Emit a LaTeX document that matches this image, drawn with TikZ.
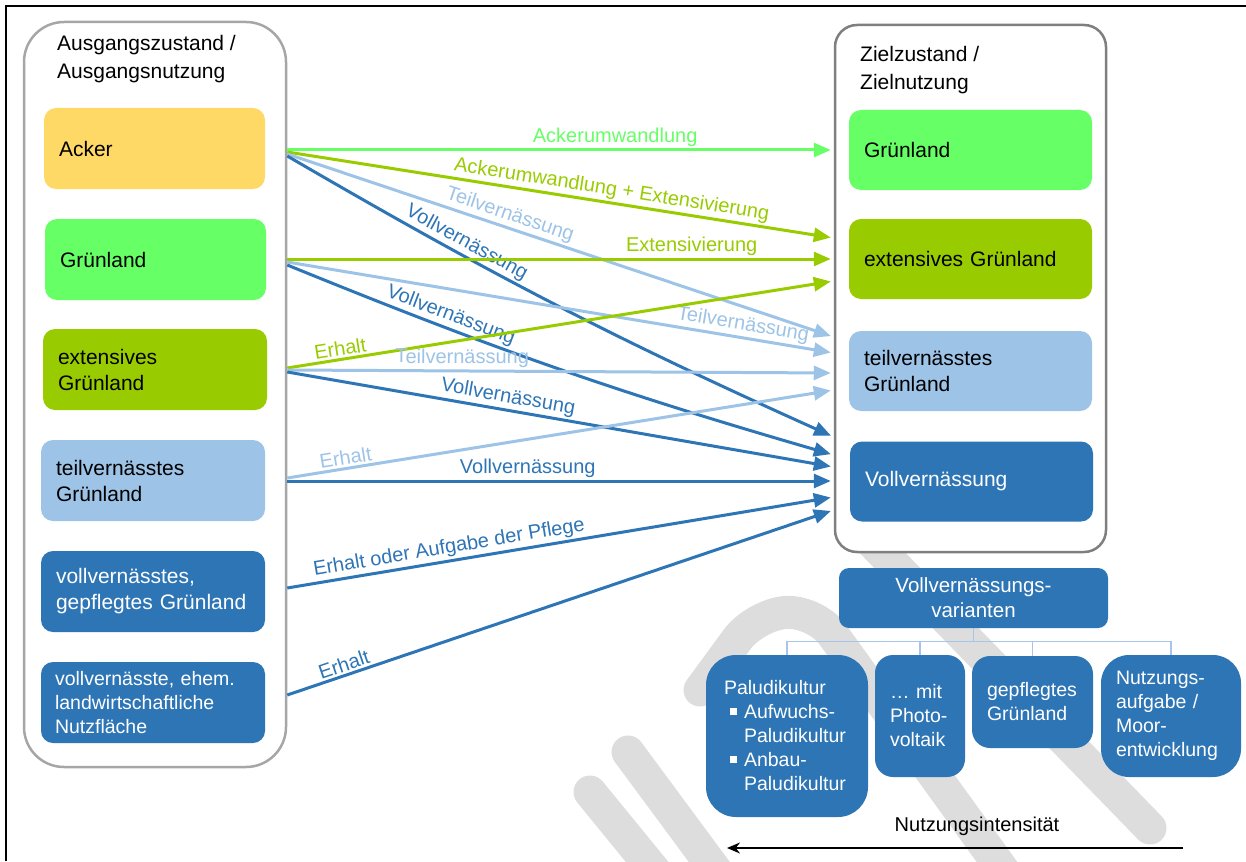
\documentclass[tikz,border=0pt]{standalone}
\usepackage{fontspec}
\setmainfont{Liberation Sans}
\usetikzlibrary{arrows.meta,calc}
\hyphenpenalty=10000
\exhyphenpenalty=10000
\definecolor{cAcker}{HTML}{FFD966}
\definecolor{cGr}{HTML}{66FF66}
\definecolor{cExt}{HTML}{99CC00}
\definecolor{cTeil}{HTML}{9DC3E6}
\definecolor{cVoll}{HTML}{2E75B6}
\definecolor{cWm}{HTML}{DDDDDD}
\definecolor{cTree}{HTML}{A9C4EB}
\definecolor{cContL}{HTML}{A6A6A6}
\definecolor{cContR}{HTML}{7F7F7F}
\newcommand\mybul{\makebox[20pt][l]{\hspace*{6pt}\rule[4pt]{7pt}{7pt}}}
\begin{document}
\begin{tikzpicture}[x=1pt,y=-1pt,
  cont/.style={line width=2.5pt, fill=white, inner sep=0pt},
  ttl/.style={align=left, inner sep=0pt, font=\fontsize{21}{28}\selectfont},
  fbox/.style={rounded corners=12pt, inner xsep=15pt, inner ysep=0pt, align=left,
     font=\fontsize{21}{26}\selectfont, minimum height=81pt},
  vbox/.style={fill=cVoll, text=white, inner ysep=0pt, align=left,
     font=\fontsize{19.5}{24}\selectfont},
  arr/.style={line width=3pt, -{Triangle[length=17pt,width=14pt]}, shorten >=3pt},
  lab/.style={sloped, above, font=\fontsize{20}{24}\selectfont, inner sep=2pt},
  wm/.style={cWm, line width=33pt, line cap=round, line join=round},
  tree/.style={cTree, line width=1.3pt}]
\useasboundingbox (0,0) rectangle (1246,861);
% watermark
\draw[wm] (628,752) -- (730,890);
\draw[wm] (590,792) -- (670,890);
\draw[wm, rounded corners=30pt] (700,690) -- (755,615) -- (815,610) -- (1010,880);
\draw[wm] (870,540) -- (1150,828);
% frame
\coordinate (fa) at (6,861);
\coordinate (fb) at (6,6);
\coordinate (fc) at (1246,6);
\draw[line width=1.2pt] (fa) -- (fb) -- (fc);
% containers
\node[cont, draw=cContL, rounded corners=40pt, minimum width=262pt, minimum height=745pt] (L) at (155,394.5) {};
\node[cont, draw=cContR, rounded corners=22pt, minimum width=271pt, minimum height=527pt] (R) at (970.5,288.5) {};
\node[ttl, anchor=west] (lt) at (57,59) {Ausgangszustand /\\Ausgangsnutzung};
\node[ttl, anchor=west] (rt) at (860,70) {Zielzustand /\\Zielnutzung};
% left boxes
\node[fbox, fill=cAcker, text width=191pt] (acker) at (154.5,148.5) {Acker};
\node[fbox, fill=cGr, text width=191pt] (gr) at (155.5,259.5) {Grünland};
\node[fbox, fill=cExt, text width=194pt] (ext) at (155,369.5) {extensives\\Grünland};
\node[fbox, fill=cTeil, text width=194pt] (teil) at (153,480.5) {teilvernässtes\\Grünland};
\node[fbox, fill=cVoll, text=white, text width=194pt] (vollg) at (153,591.5) {vollvernässtes,\\gepflegtes Grünland};
\node[fbox, fill=cVoll, text=white, text width=196pt, inner xsep=14pt, font=\fontsize{19.5}{24}\selectfont] (ehem) at (153,702.5) {vollvernässte, ehem.\\landwirtschaftliche\\Nutzfläche};
% right boxes
\node[fbox, fill=cGr, text width=213pt, minimum height=80pt] (rgr) at (970.5,150) {Grünland};
\node[fbox, fill=cExt, text width=213pt, minimum height=80pt] (rext) at (970.5,259) {extensives Grünland};
\node[fbox, fill=cTeil, text width=213pt, minimum height=80pt] (rteil) at (970.5,371) {teilvernässtes\\Grünland};
\node[fbox, fill=cVoll, text=white, text width=213pt, minimum height=80pt] (rvoll) at (971.5,481.5) {Vollvernässung};
% variants
\node[fill=cVoll, text=white, rounded corners=10pt, minimum width=269pt, minimum height=60pt, inner sep=0pt, align=center, font=\fontsize{20.5}{25}\selectfont] (var) at (973.5,598) {Vollvernässungs-\\varianten};
\node[vbox, rounded corners=30pt, inner xsep=18pt, text width=126pt, minimum height=162pt] (palu) at (787,736)
  {Paludikultur\\\mybul Aufwuchs-\\\hspace*{20pt}Paludikultur\\\mybul Anbau-\\\hspace*{20pt}Paludikultur};
\node[vbox, rounded corners=18pt, inner xsep=15pt, text width=60pt, minimum height=122pt] (photo) at (920,716) {… mit\\Photo-\\voltaik};
\node[vbox, rounded corners=18pt, inner xsep=15pt, text width=91pt, minimum height=92pt] (gepf) at (1032.5,702) {gepflegtes\\Grünland};
\node[vbox, rounded corners=28pt, inner xsep=15pt, text width=110pt, minimum height=122pt] (nutz) at (1171,716) {Nutzungs-\\aufgabe /\\Moor-\\entwicklung};
\draw[tree] (var.south) -- ++(0,13) coordinate (tj) -| (palu.north);
\draw[tree] (tj) -| (photo.north);
\draw[tree] (tj) -| (gepf.north);
\draw[tree] (tj) -| (nutz.north);
% intensity
\node[font=\fontsize{20}{24}\selectfont, inner sep=0pt] (ni) at (977,826) {Nutzungsintensität};
\coordinate (ia) at (1183,848);
\coordinate (ib) at (727,848);
\draw[line width=1.5pt, -{Stealth[length=13pt,width=11pt]}] (ia) -- (ib);
% arrows from Acker
\draw[arr, cGr] ($(L.east |- acker)+(0,1.5)$) -- node[lab,pos=.6]{Ackerumwandlung} ($(R.west |- rgr)$);
\draw[arr, cExt] ($(L.east |- acker)+(0,3.5)$) -- node[lab,pos=.59]{Ackerumwandlung + Extensivierung} ($(R.west |- rext)+(0,-21)$);
\draw[arr, cTeil] ($(L.east |- acker)+(0,5.5)$) -- node[lab,pos=.40]{Teilvernässung} ($(R.west |- rteil)+(0,-34)$);
\draw[arr, cVoll] ($(L.east |- acker)+(0,7.5)$) to[bend right=3] node[lab,pos=.31]{Vollvernässung} ($(R.west |- rvoll)+(0,-44.5)$);
% from Grünland
\draw[arr, cExt] ($(L.east |- gr)+(0,-0.5)$) -- node[lab,pos=.74]{Extensivierung} ($(R.west |- rext)$);
\draw[arr, cTeil] ($(L.east |- gr)+(0,2.5)$) -- node[lab,pos=.83]{Teilvernässung} ($(R.west |- rteil)+(0,-18)$);
\draw[arr, cVoll] ($(L.east |- gr)+(0,5.5)$) to[bend right=3] node[lab,pos=.28]{Vollvernässung} ($(R.west |- rvoll)+(0,-26.5)$);
% from extensives Grünland
\draw[arr, cExt] ($(L.east |- ext)+(0,-1.5)$) -- node[lab,pos=.10]{Erhalt} ($(R.west |- rext)+(0,22)$);
\draw[arr, cTeil] ($(L.east |- ext)+(0,0.5)$) -- node[lab,pos=.32]{Teilvernässung} ($(R.west |- rteil)+(0,2)$);
\draw[arr, cVoll] ($(L.east |- ext)+(0,2.5)$) -- node[lab,pos=.40]{Vollvernässung} ($(R.west |- rvoll)+(0,-14.5)$);
% from teilvernässt
\draw[arr, cTeil] ($(L.east |- teil)+(0,-2.5)$) -- node[lab,pos=.11]{Erhalt} ($(R.west |- rteil)+(0,19)$);
\draw[arr, cVoll] ($(L.east |- teil)+(0,0.5)$) -- node[lab,pos=.44]{Vollvernässung} ($(R.west |- rvoll)+(0,-0.5)$);
% from vollvernässt
\draw[arr, cVoll] ($(L.east |- vollg)+(0,-3.5)$) -- node[lab,pos=.30]{Erhalt oder Aufgabe der Pflege} ($(R.west |- rvoll)+(0,15.5)$);
\draw[arr, cVoll] ($(L.east |- ehem)+(0,-7.5)$) -- node[lab,pos=.11]{Erhalt} ($(R.west |- rvoll)+(0,28.5)$);
\end{tikzpicture}
\end{document}
